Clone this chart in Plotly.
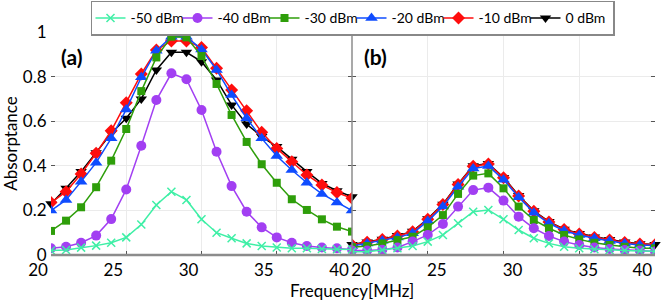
import plotly.graph_objects as go

freq = list(range(20, 41))
series_names = ["-50 dBm", "-40 dBm", "-30 dBm", "-20 dBm", "-10 dBm", "0 dBm"]

a_m50 = [0.02,0.022,0.033,0.042,0.055,0.079,0.137,0.224,0.284,0.247,0.16,0.10,0.075,0.052,0.04,0.034,0.03,0.03,0.027,0.026,0.025]
a_m40 = [0.03,0.037,0.055,0.087,0.161,0.294,0.49,0.695,0.815,0.788,0.65,0.463,0.309,0.194,0.124,0.079,0.055,0.04,0.034,0.03,0.025]
a_m30 = [0.108,0.154,0.214,0.304,0.423,0.565,0.735,0.886,0.979,0.976,0.892,0.767,0.628,0.507,0.407,0.324,0.25,0.202,0.16,0.127,0.105]
a_m20 = [0.199,0.247,0.329,0.414,0.523,0.653,0.797,0.916,0.979,0.979,0.922,0.83,0.717,0.613,0.523,0.444,0.381,0.324,0.274,0.235,0.199]
a_m10 = [0.235,0.284,0.363,0.456,0.557,0.683,0.812,0.919,0.96,0.96,0.93,0.837,0.74,0.647,0.55,0.478,0.418,0.359,0.314,0.28,0.254]
a_0   = [0.23,0.299,0.374,0.459,0.546,0.613,0.70,0.83,0.909,0.909,0.867,0.785,0.673,0.587,0.531,0.486,0.429,0.374,0.321,0.288,0.261]

b_m50 = [0.015,0.015,0.022,0.03,0.04,0.06,0.09,0.142,0.194,0.202,0.16,0.112,0.075,0.052,0.037,0.03,0.026,0.022,0.02,0.018,0.017]
b_m40 = [0.02,0.02,0.024,0.034,0.06,0.09,0.139,0.217,0.291,0.302,0.244,0.172,0.12,0.085,0.06,0.045,0.034,0.027,0.022,0.02,0.016]
b_m30 = [0.035,0.04,0.052,0.067,0.082,0.124,0.179,0.274,0.356,0.366,0.299,0.217,0.157,0.12,0.09,0.07,0.055,0.045,0.037,0.03,0.03]
b_m20 = [0.04,0.052,0.064,0.079,0.097,0.152,0.217,0.306,0.388,0.399,0.338,0.259,0.19,0.142,0.109,0.09,0.075,0.063,0.052,0.045,0.043]
b_m10 = [0.045,0.057,0.07,0.085,0.104,0.16,0.226,0.316,0.398,0.408,0.346,0.265,0.196,0.148,0.114,0.094,0.079,0.067,0.056,0.049,0.046]
b_0   = [0.047,0.058,0.071,0.087,0.106,0.162,0.228,0.318,0.40,0.41,0.348,0.267,0.198,0.15,0.116,0.096,0.081,0.069,0.058,0.05,0.047]

x_ticks = [20, 25, 30, 35, 40]
x_labels_a = ["20", "25", "30", "35", "40"]
x_labels_b = ["20", "25", "30", "35", "40" + "\u00a0" * 10]
y_ticks = [0, 0.2, 0.4, 0.6, 0.8, 1]

panel_a = [a_m50, a_m40, a_m30, a_m20, a_m10, a_0]
panel_b = [b_m50, b_m40, b_m30, b_m20, b_m10, b_0]

colors = ["#3fefa6", "#a23ff2", "#2e9e0a", "#0f4cff", "#ff0d0d", "#000000"]
symbols = ["x-thin", "circle", "square", "triangle-up", "diamond", "triangle-down"]
sizes = [8, 10, 8, 11, 10, 10]
zorders = [6, 5, 4, 3, 2, 1]

FONT = "Lato"
fig = go.Figure()

for i, name in enumerate(series_names):
    for data, xa, show in ((panel_a[i], "x", True), (panel_b[i], "x2", False)):
        mk = dict(symbol=symbols[i], size=sizes[i], color=colors[i])
        if symbols[i] == "x-thin":
            mk["line"] = dict(color=colors[i], width=1.5)
        else:
            mk["line"] = dict(width=0)
        fig.add_trace(go.Scatter(
            x=freq, y=data, mode="lines+markers", name=name,
            xaxis=xa, yaxis="y" if xa == "x" else "y2",
            line=dict(color=colors[i], width=1.5), marker=mk,
            legendgroup=name, showlegend=show, cliponaxis=False,
            zorder=zorders[i],
        ))

split = (352 - 51) / (655 - 51)
tickfont = dict(family=FONT, size=17, color="black")

axis_common = dict(
    range=[20, 40], tickvals=x_ticks, ticks="inside", ticklen=4,
    tickcolor="#555555", showgrid=True, gridcolor="#ebebeb", gridwidth=1,
    showline=True, linecolor="black", linewidth=1, mirror="ticks",
    tickfont=tickfont, zeroline=False, ticklabeloverflow="allow",
)
fig.update_layout(
    width=664, height=304,
    margin=dict(l=51, r=9, t=32, b=49, autoexpand=False),
    paper_bgcolor="white", plot_bgcolor="white",
    font=dict(family=FONT, color="black"),
    xaxis=dict(domain=[0, split], anchor="y", ticktext=x_labels_a, ticklabelshift=-13, **axis_common),
    xaxis2=dict(domain=[split, 1], anchor="y2", ticktext=x_labels_b, ticklabelshift=9, **axis_common),
    yaxis=dict(range=[0, 1], tickvals=y_ticks, ticks="inside", ticklen=4, tickcolor="#555555",
               showgrid=True, gridcolor="#ebebeb", showline=True, linecolor="black",
               linewidth=1, mirror="ticks", zeroline=False, tickfont=tickfont,
               title=dict(text="Absorptance", font=dict(family=FONT, size=17), standoff=4)),
    yaxis2=dict(range=[0, 1], tickvals=y_ticks, matches="y", anchor="x2", ticks="inside",
                ticklen=4, tickcolor="#555555", showticklabels=False,
                showgrid=True, gridcolor="#ebebeb", showline=True, linecolor="black",
                linewidth=1, mirror="ticks", zeroline=False),
    legend=dict(orientation="h", x=(93 + 612) / 2 / 664, xanchor="center",
                xref="container", y=0.997, yanchor="top", yref="container",
                font=dict(family=FONT, size=14, color="black"),
                bordercolor="#888888", borderwidth=1.5, bgcolor="white",
                itemwidth=30, tracegroupgap=0, entrywidthmode="pixels", entrywidth=42),
    showlegend=True,
)

fig.add_shape(type="line", xref="paper", yref="paper", x0=0, x1=1, y0=0, y1=0,
              line=dict(color="#8c8c8c", width=2.5), layer="above")
fig.add_shape(type="line", xref="paper", yref="paper", x0=split, x1=split, y0=0, y1=1,
              line=dict(color="#8c8c8c", width=1.5), layer="above")

fig.add_annotation(text="<b>(a)</b>", xref="paper", yref="paper", x=(59 - 51) / 604, y=(255 - 42) / 223,
                   xanchor="left", yanchor="top", showarrow=False, font=dict(family=FONT, size=21))
fig.add_annotation(text="<b>(b)</b>", xref="paper", yref="paper", x=(362 - 51) / 604, y=(255 - 42) / 223,
                   xanchor="left", yanchor="top", showarrow=False, font=dict(family=FONT, size=21))
fig.add_annotation(text="Frequency[MHz]", xref="paper", yref="paper", x=split, y=-0.105,
                   xanchor="center", yanchor="top", showarrow=False, font=dict(family=FONT, size=17))

fig.write_html("out.html", post_script="document.body.style.margin='0';",
               config={"displayModeBar": False})
